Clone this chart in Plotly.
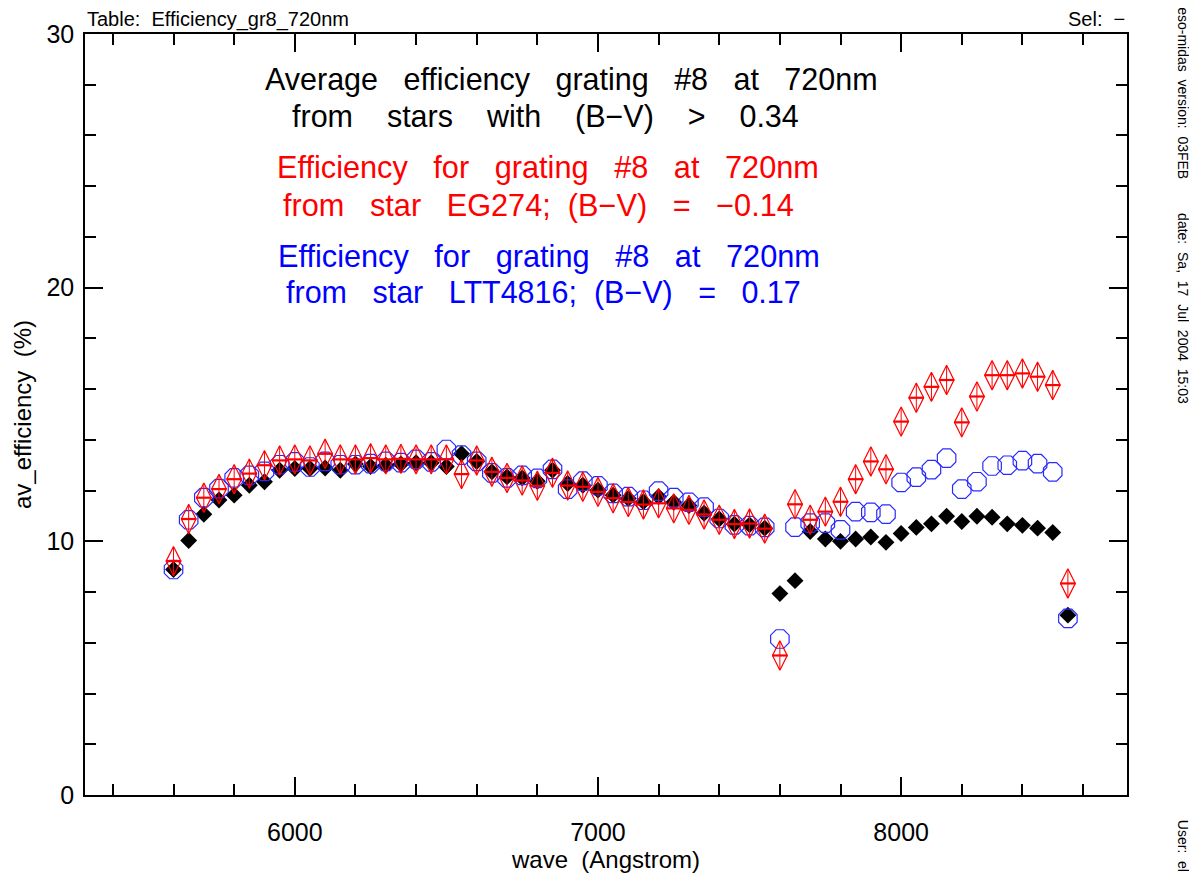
import plotly.graph_objects as go

wave = [5600, 5650, 5700, 5750, 5800, 5850, 5900, 5950, 6000, 6050,
        6100, 6150, 6200, 6250, 6300, 6350, 6400, 6450, 6500, 6550,
        6600, 6650, 6700, 6750, 6800, 6850, 6900, 6950, 7000, 7050,
        7100, 7150, 7200, 7250, 7300, 7350, 7400, 7450, 7500, 7550,
        7600, 7650, 7700, 7750, 7800, 7850, 7900, 7950, 8000, 8050,
        8100, 8150, 8200, 8250, 8300, 8350, 8400, 8450, 8500, 8550]

av_eff = [8.89, 10.03, 11.07, 11.63, 11.82, 12.21, 12.35, 12.80, 12.87, 12.87,
          12.89, 12.80, 13.05, 12.95, 13.00, 13.05, 13.10, 13.10, 12.95, 13.45,
          13.15, 12.74, 12.54, 12.50, 12.37, 12.80, 12.28, 12.21, 12.02, 11.82,
          11.69, 11.56, 11.76, 11.54, 11.41, 11.11, 10.88, 10.68, 10.65, 10.52,
          7.94, 8.45, 10.39, 10.09, 10.00, 10.09, 10.17, 9.96, 10.31, 10.55,
          10.69, 10.99, 10.78, 10.99, 10.95, 10.69, 10.63, 10.52, 10.35, 7.09]

eff_eg274 = [9.22, 10.88, 11.72, 12.06, 12.45, 12.67, 13.00, 13.19, 13.23, 13.19,
             13.45, 13.23, 13.23, 13.28, 13.23, 13.25, 13.23, 13.23, 13.23, 12.65,
             13.19, 12.74, 12.50, 12.40, 12.19, 12.70, 12.20, 12.15, 11.95, 11.70,
             11.55, 11.45, 11.50, 11.30, 11.24, 11.06, 10.85, 10.68, 10.70, 10.50,
             5.50, 11.46, 10.85, 11.17, 11.56, 12.45, 13.15, 12.84, 14.72, 15.66,
             16.09, 16.36, 14.69, 15.71, 16.55, 16.55, 16.62, 16.49, 16.16, 8.34]

eff_ltt4816 = [8.89, 10.85, 11.72, 12.08, 12.50, 12.60, 12.76, 13.02, 13.13, 12.93,
               13.15, 13.02, 13.02, 13.06, 13.15, 13.10, 13.23, 13.13, 13.62, 13.40,
               13.15, 12.70, 12.50, 12.60, 12.48, 12.84, 12.06, 12.37, 12.19, 11.89,
               11.76, 11.62, 11.98, 11.72, 11.54, 11.35, 10.90, 10.65, 10.62, 10.55,
               6.15, 10.56, 10.72, 10.72, 10.45, 11.17, 11.14, 11.07, 12.32, 12.53,
               12.83, 13.28, 12.06, 12.35, 12.97, 13.00, 13.18, 13.06, 12.74, 6.96]

x_ticks = [6000, 7000, 8000]
y_ticks = [0, 10, 20, 30]

FONT = "Liberation Sans"
S = "\u00a0"

# the page body adds an 8px offset; size the figure to compensate
OFF = 8
W, H = 1197 - OFF, 875 - OFF
L, T, PW, PH = 85 - OFF, 32 - OFF, 1042, 767

fig = go.Figure()

fig.add_trace(go.Scatter(
    x=wave, y=av_eff, mode="markers", name="average",
    marker=dict(symbol="diamond", size=13, color="black",
                line=dict(width=0)),
))
fig.add_trace(go.Scatter(
    x=wave, y=eff_ltt4816, mode="markers", name="LTT4816",
    marker=dict(symbol="octagon-open", size=20, color="#2a2aff",
                line=dict(width=1.2, color="#2a2aff")),
))
fig.add_trace(go.Scatter(
    x=wave, y=eff_eg274, mode="markers", name="EG274",
    marker=dict(symbol="diamond-tall-open", size=21, color="red",
                line=dict(width=1.2, color="red")),
))
fig.add_trace(go.Scatter(
    x=wave, y=eff_eg274, mode="markers", name="EG274 bar",
    marker=dict(symbol="line-ew", size=11, color="red",
                line=dict(width=2.2, color="red")),
))
fig.add_trace(go.Scatter(
    x=wave, y=eff_eg274, mode="markers", name="EG274 axis",
    marker=dict(symbol="line-ns", size=20, color="red",
                line=dict(width=1, color="red")),
))

axis_common = dict(
    showgrid=False, zeroline=False, showline=True, linecolor="black",
    linewidth=1.5, mirror="ticks", ticks="inside", ticklen=18, tickwidth=1.5,
    tickcolor="black", tickfont=dict(family=FONT, size=25, color="black"),
)

fig.update_layout(
    width=W, height=H,
    margin=dict(l=L, r=W - L - PW, t=T, b=H - T - PH),
    paper_bgcolor="white", plot_bgcolor="white",
    showlegend=False,
    xaxis=dict(
        range=[5308, 8745], tickmode="array", tickvals=x_ticks,
        ticktext=[str(v) for v in x_ticks],
        minor=dict(dtick=200, tick0=0, ticks="inside", ticklen=11,
                   tickwidth=1.5, tickcolor="black"),
        ticklabelstandoff=14,
        title=dict(text="wave" + S * 2 + "(Angstrom)",
                   font=dict(family=FONT, size=24, color="black"), standoff=0),
        **axis_common,
    ),
    yaxis=dict(
        range=[0, 30], tickmode="array", tickvals=y_ticks,
        ticktext=[str(v) for v in y_ticks],
        minor=dict(dtick=2, tick0=0, ticks="inside", ticklen=11,
                   tickwidth=1.5, tickcolor="black"),
        ticklabelstandoff=4,
        title=dict(text="av_efficiency" + S * 2 + "(%)",
                   font=dict(family=FONT, size=24, color="black"), standoff=8),
        **axis_common,
    ),
)

def px2paper(px, py):
    # px, py in reference screenshot pixels
    return (px - 85) / PW, (799 - py) / PH

sp = S * 3
sp4 = S * 4
lines = [
    ("Average" + sp + "efficiency" + sp + "grating" + sp + "#8" + sp + "at" + sp + "720nm", 263, 78, "black", 30.5),
    ("from" + sp4 + "stars" + sp4 + "with" + sp4 + "(B\u2212V)" + sp4 + ">" + sp4 + "0.34", 290, 115, "black", 30.5),
    ("Efficiency" + sp + "for" + sp + "grating" + sp + "#8" + sp + "at" + sp + "720nm", 275, 167, "red", 30.7),
    ("from" + sp + "star" + sp + "EG274;" + S * 2 + "(B\u2212V)" + sp + "=" + sp + "\u22120.14", 281, 205, "red", 30.7),
    ("Efficiency" + sp + "for" + sp + "grating" + sp + "#8" + sp + "at" + sp + "720nm", 276, 256, "blue", 30.7),
    ("from" + sp + "star" + sp + "LTT4816;" + S * 2 + "(B\u2212V)" + sp + "=" + sp + "0.17", 284, 293, "blue", 30.5),
]
for text, lx, cy, col, fs in lines:
    ax_, ay_ = px2paper(lx, cy)
    fig.add_annotation(x=ax_, y=ay_, xref="paper", yref="paper", text=text,
                       showarrow=False, xanchor="left", yanchor="middle",
                       font=dict(family=FONT, size=fs, color=col))

# header texts
hx, hy = px2paper(85, 17)
fig.add_annotation(x=hx, y=hy, xref="paper", yref="paper",
                   text="Table:" + S * 2 + "Efficiency_gr8_720nm", showarrow=False,
                   xanchor="left", yanchor="middle",
                   font=dict(family=FONT, size=20, color="black"))
sx, sy = px2paper(1127, 17)
fig.add_annotation(x=sx, y=sy, xref="paper", yref="paper",
                   text="Sel:" + S * 2 + "\u2212", showarrow=False,
                   xanchor="right", yanchor="middle",
                   font=dict(family=FONT, size=20, color="black"))

# right margin vertical info
side = [
    ("eso-midas" + S * 2 + "version:" + S * 2 + "03FEB", 3),
    ("date:" + S * 2 + "Sa," + S * 2 + "17" + S * 2 + "Jul" + S * 2 + "2004" + S * 2 + "15:03", 210),
    ("User:" + S * 2 + "el", 822),
]
for text, ty in side:
    vx, vy = px2paper(1183, ty)
    fig.add_annotation(x=vx, y=vy, xref="paper", yref="paper", text=text,
                       showarrow=False, textangle=90, xanchor="center",
                       yanchor="top", font=dict(family=FONT, size=14, color="black"))

fig.write_html("out.html")
